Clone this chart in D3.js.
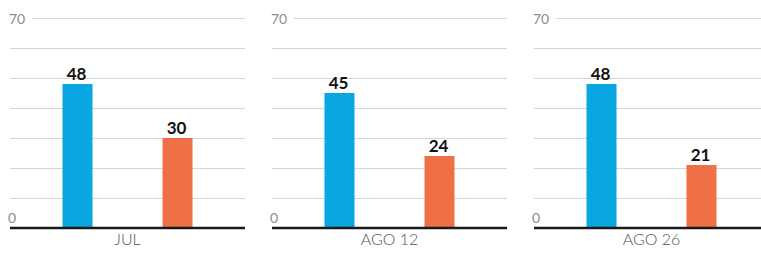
<!DOCTYPE html>
<html>
<head>
<meta charset="utf-8">
<script src="https://cdn.jsdelivr.net/npm/d3@7.9.0/dist/d3.min.js"></script>
<style>
  html, body { margin: 0; padding: 0; background: #fff; }
  svg { display: block; }
  text { font-family: Lato, "Open Sans", sans-serif; }
</style>
</head>
<body>
<svg id="chart" width="761" height="255"></svg>
<script>
const periods = ['JUL', 'AGO 12', 'AGO 26'];
const series = ['a', 'b'];
const seriesA = [48, 45, 48];
const seriesB = [30, 24, 21];
const yTicks = [0, 10, 20, 30, 40, 50, 60, 70];
const colors = ['#0aa6e2', '#ef6f46'];

const svg = d3.select('#chart');
const panelW = 235;
const baseY = 228;

const x0 = d3.scaleBand().domain(periods).range([10, 10 + 262 * periods.length]);
const x1 = d3.scaleBand().domain(series).range([0, panelW]).paddingInner(0.7).paddingOuter(0.525);
const y = d3.scaleLinear().domain([0, 70]).range([baseY, 18]);

const rows = periods.map((p, i) => ({ period: p, values: [seriesA[i], seriesB[i]] }));

const panels = svg.selectAll('g.panel')
  .data(rows)
  .join('g')
  .attr('class', 'panel')
  .attr('transform', (d) => `translate(${x0(d.period)},0)`);

// gridlines
panels.selectAll('line.grid')
  .data(yTicks.filter((t) => t > 0))
  .join('line')
  .attr('class', 'grid')
  .attr('x1', (t) => (t === 70 ? 22 : 0))
  .attr('x2', panelW)
  .attr('y1', (t) => y(t) + 0.5)
  .attr('y2', (t) => y(t) + 0.5)
  .attr('stroke', '#d6d6d6')
  .attr('stroke-width', 1);

// tick labels 0 and 70
panels.append('text')
  .attr('x', -1)
  .attr('y', y(70) + 6)
  .attr('font-size', 14)
  .attr('fill', '#8c8c8c')
  .text('70');

panels.append('text')
  .attr('x', -2)
  .attr('y', y(0) - 5)
  .attr('font-size', 14)
  .attr('fill', '#8c8c8c')
  .text('0');

// bars
panels.selectAll('rect.bar')
  .data((d) => d.values.map((v, j) => ({ key: series[j], value: v })))
  .join('rect')
  .attr('class', 'bar')
  .attr('x', (d) => x1(d.key))
  .attr('width', x1.bandwidth())
  .attr('y', (d) => y(d.value))
  .attr('height', (d) => baseY - y(d.value))
  .attr('fill', (d, j) => colors[j]);

// value labels
panels.selectAll('text.val')
  .data((d) => d.values.map((v, j) => ({ key: series[j], value: v })))
  .join('text')
  .attr('class', 'val')
  .attr('x', (d) => x1(d.key) + x1.bandwidth() / 2 - 1)
  .attr('y', (d) => y(d.value) - 4)
  .attr('text-anchor', 'middle')
  .attr('font-size', 17)
  .attr('font-weight', 'bold')
  .attr('fill', '#111')
  .text((d) => d.value);

// baseline
panels.append('line')
  .attr('x1', 0)
  .attr('x2', panelW)
  .attr('y1', baseY)
  .attr('y2', baseY)
  .attr('stroke', '#1a1a1a')
  .attr('stroke-width', 2.5);

// category labels
panels.append('text')
  .attr('x', panelW / 2)
  .attr('y', 245)
  .attr('text-anchor', 'middle')
  .attr('font-size', 16)
  .attr('font-weight', 300)
  .attr('fill', '#555')
  .text((d) => d.period);
</script>
</body>
</html>
